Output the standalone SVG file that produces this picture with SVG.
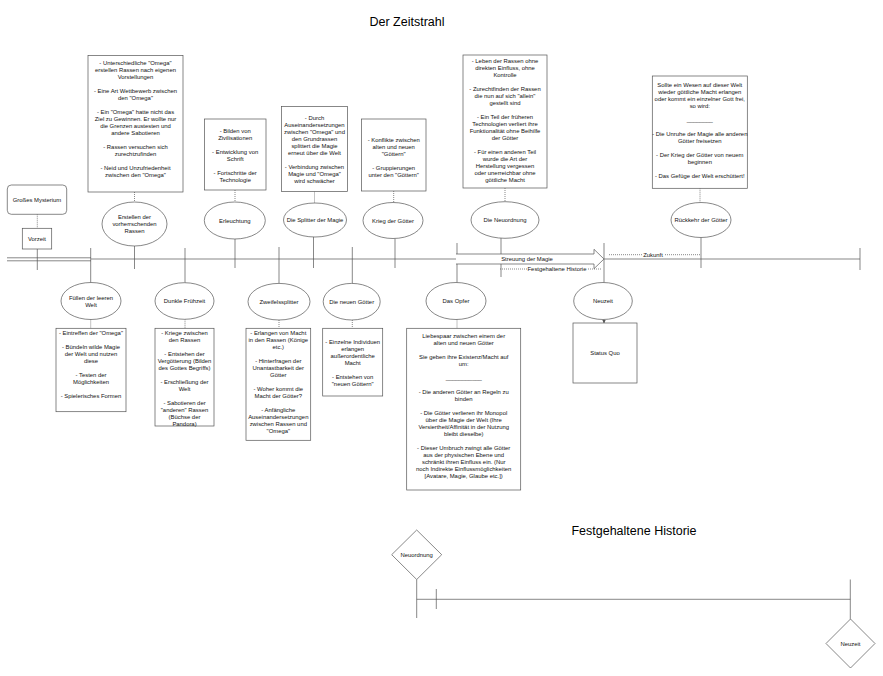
<svg xmlns="http://www.w3.org/2000/svg" width="883" height="676" viewBox="0 0 883 676">
<style>
.b{fill:#fff;stroke:#555;stroke-width:0.7}
.l{stroke:#555;stroke-width:0.7;fill:none}
.d{stroke:#555;stroke-width:0.7;stroke-dasharray:1 1;fill:none}
.t{font-family:"Liberation Sans",Arial,sans-serif;font-size:5.9px;fill:#111;text-anchor:middle}
.h{font-family:"Liberation Sans",Arial,sans-serif;font-size:12.5px;fill:#000;text-anchor:middle}
</style>
<defs>
<marker id="ar" viewBox="0 0 10 10" refX="9" refY="5" markerWidth="5" markerHeight="5" orient="auto"><path d="M0,0 L10,5 L0,10 z" fill="#555"/></marker>
</defs>
<rect width="883" height="676" fill="#fff"/>
<text class="h" x="407" y="26">Der Zeitstrahl</text>
<text class="h" x="634" y="535">Festgehaltene Historie</text>

<g id="connectors">
<line class="l" x1="7" y1="257.8" x2="91" y2="257.8"/>
<line class="l" x1="7" y1="260.8" x2="91" y2="260.8"/>
<line class="l" x1="91" y1="259" x2="456" y2="259"/>
<line class="l" x1="604" y1="259" x2="860" y2="259"/>
<line class="l" x1="860" y1="248" x2="860" y2="270"/>
<line class="d" x1="37.3" y1="214.3" x2="37.3" y2="228.3"/>
<line class="l" x1="37.3" y1="249" x2="37.3" y2="270"/>
<line class="l" x1="90.7" y1="248" x2="90.7" y2="282.5"/>
<line class="d" x1="90.7" y1="319.5" x2="90.7" y2="328.3"/>
<line class="d" x1="134.5" y1="192" x2="134.5" y2="202"/>
<line class="l" x1="134.5" y1="246" x2="134.5" y2="269"/>
<line class="l" x1="185" y1="248" x2="185" y2="282.7"/>
<line class="d" x1="185" y1="319.3" x2="185" y2="328.3"/>
<line class="d" x1="235" y1="190" x2="235" y2="202"/>
<line class="l" x1="235" y1="239" x2="235" y2="268"/>
<line class="l" x1="279" y1="247" x2="279" y2="283.4"/>
<line class="d" x1="279" y1="320" x2="279" y2="328.3"/>
<line class="d" x1="314.5" y1="191.5" x2="314.5" y2="203"/>
<line class="l" x1="313.5" y1="237" x2="313.5" y2="268"/>
<line class="l" x1="352.3" y1="247" x2="352.3" y2="283.4"/>
<line class="d" x1="352.3" y1="320" x2="352.3" y2="328.3"/>
<line class="d" x1="393.7" y1="191" x2="393.7" y2="202.5"/>
<line class="l" x1="395" y1="238.5" x2="395" y2="268"/>
<line class="l" x1="457" y1="243" x2="457" y2="282.5"/>
<line class="d" x1="457" y1="319.5" x2="457" y2="328.3"/>
<line class="d" x1="505" y1="188" x2="505" y2="201.7"/>
<line class="l" x1="501" y1="238" x2="501" y2="277"/>
<line class="l" x1="604" y1="243" x2="604" y2="282.5"/>
<line class="l" x1="604" y1="319.5" x2="604" y2="323" marker-end="url(#ar)"/>
<line class="d" x1="700" y1="188.3" x2="700" y2="202.5"/>
<line class="l" x1="701" y1="237.5" x2="701" y2="268"/>
<path class="b" d="M456,254 H594 V249.3 L604,259 L594,268.7 V264 H456"/>
<text class="t" x="527" y="261">Streuung der Magie</text>
<line class="d" x1="500" y1="269" x2="602" y2="269"/>
<rect x="527" y="266" width="60" height="6" fill="#fff"/>
<text class="t" x="557" y="271.1">Festgehaltene Historie</text>
<line class="d" x1="609" y1="254.7" x2="700.7" y2="254.7"/>
<rect x="642" y="251.7" width="22" height="6" fill="#fff"/>
<text class="t" x="653" y="256.8">Zukunft</text>
<line class="l" x1="416.7" y1="579.5" x2="416.7" y2="618"/>
<line class="l" x1="416.7" y1="599.3" x2="850.3" y2="599.3"/>
<line class="l" x1="436.3" y1="589" x2="436.3" y2="609"/>
<line class="l" x1="850.3" y1="579.5" x2="850.3" y2="619"/>
</g>

<g id="mysterium">
<rect class="b" x="7.3" y="185" width="59.4" height="29.3" rx="4"/>
<text class="t" x="37" y="201.7">Großes Mysterium</text>
</g>
<g id="vorzeit">
<rect class="b" x="22.3" y="228.3" width="29.4" height="20.7"/>
<text class="t" x="37" y="240.8">Vorzeit</text>
</g>

<g id="erstellen-box">
<rect class="b" x="88" y="55.5" width="95" height="136.5"/>
<text class="t" x="135.5" y="64.6"><tspan x="135.5">- Unterschiedliche "Omega"</tspan><tspan x="135.5" dy="7">erstellen Rassen nach eigenen</tspan><tspan x="135.5" dy="7">Vorstellungen</tspan><tspan x="135.5" dy="14">- Eine Art Wettbewerb zwischen</tspan><tspan x="135.5" dy="7">den "Omega"</tspan><tspan x="135.5" dy="14">- Ein "Omega" hatte nicht das</tspan><tspan x="135.5" dy="7">Ziel zu Gewinnen. Er wollte nur</tspan><tspan x="135.5" dy="7">die Grenzen austesten und</tspan><tspan x="135.5" dy="7">andere Sabotieren</tspan><tspan x="135.5" dy="14">- Rassen versuchen sich</tspan><tspan x="135.5" dy="7">zurechtzufinden</tspan><tspan x="135.5" dy="14">- Neid und Unzufriedenheit</tspan><tspan x="135.5" dy="7">zwischen den "Omega"</tspan></text>
</g>
<g id="erstellen">
<ellipse class="b" cx="134.5" cy="224" rx="32.5" ry="22"/>
<text class="t" x="134.5" y="219.1"><tspan x="134.5">Erstellen der</tspan><tspan x="134.5" dy="7">vorherrschenden</tspan><tspan x="134.5" dy="7">Rassen</tspan></text>
</g>

<g id="erleuchtung-box">
<rect class="b" x="204.5" y="119" width="61.5" height="71"/>
<text class="t" x="235.2" y="133.1"><tspan x="235.2">- Bilden von</tspan><tspan x="235.2" dy="7">Zivilisationen</tspan><tspan x="235.2" dy="14">- Entwicklung von</tspan><tspan x="235.2" dy="7">Schrift</tspan><tspan x="235.2" dy="14">- Fortschritte der</tspan><tspan x="235.2" dy="7">Technologie</tspan></text>
</g>
<g id="erleuchtung">
<ellipse class="b" cx="234.8" cy="220.5" rx="30.5" ry="18.5"/>
<text class="t" x="234.8" y="222.6">Erleuchtung</text>
</g>

<g id="splitter-box">
<rect class="b" x="281.5" y="106.5" width="66" height="85"/>
<text class="t" x="314.5" y="120.4"><tspan x="314.5">- Durch</tspan><tspan x="314.5" dy="7">Auseinandersetzungen</tspan><tspan x="314.5" dy="7">zwischen "Omega" und</tspan><tspan x="314.5" dy="7">den Grundrassen</tspan><tspan x="314.5" dy="7">splittert die Magie</tspan><tspan x="314.5" dy="7">erneut über die Welt</tspan><tspan x="314.5" dy="14">- Verbindung zwischen</tspan><tspan x="314.5" dy="7">Magie und "Omega"</tspan><tspan x="314.5" dy="7">wird schwächer</tspan></text>
</g>
<g id="splitter">
<ellipse class="b" cx="315" cy="220" rx="31.5" ry="17"/>
<text class="t" x="315" y="222.1">Die Splitter der Magie</text>
</g>

<g id="krieg-box">
<rect class="b" x="361.5" y="119" width="64.5" height="72"/>
<text class="t" x="393.7" y="142.1"><tspan x="393.7">- Konflikte zwischen</tspan><tspan x="393.7" dy="7">alten und neuen</tspan><tspan x="393.7" dy="7">"Göttern"</tspan><tspan x="393.7" dy="14">- Gruppierungen</tspan><tspan x="393.7" dy="7">unter den "Göttern"</tspan></text>
</g>
<g id="krieg">
<ellipse class="b" cx="393" cy="220.5" rx="30" ry="18"/>
<text class="t" x="393" y="222.6">Krieg der Götter</text>
</g>

<g id="neuordnung-box">
<rect class="b" x="463" y="55" width="84" height="133"/>
<text class="t" x="505" y="63.1"><tspan x="505">- Leben der Rassen ohne</tspan><tspan x="505" dy="7">direkten Einfluss, ohne</tspan><tspan x="505" dy="7">Kontrolle</tspan><tspan x="505" dy="14">- Zurechtfinden der Rassen</tspan><tspan x="505" dy="7">die nun auf sich "allein"</tspan><tspan x="505" dy="7">gestellt sind</tspan><tspan x="505" dy="14">- Ein Teil der früheren</tspan><tspan x="505" dy="7">Technologien verliert ihre</tspan><tspan x="505" dy="7">Funktionalität ohne Beihilfe</tspan><tspan x="505" dy="7">der Götter</tspan><tspan x="505" dy="14">- Für einen anderen Teil</tspan><tspan x="505" dy="7">wurde die Art der</tspan><tspan x="505" dy="7">Herstellung vergessen</tspan><tspan x="505" dy="7">oder unerreichbar ohne</tspan><tspan x="505" dy="7">göttliche Macht</tspan></text>
</g>
<g id="neuordnung">
<ellipse class="b" cx="505" cy="220" rx="34" ry="18.3"/>
<text class="t" x="505" y="222.1">Die Neuordnung</text>
</g>

<g id="rueckkehr-box">
<rect class="b" x="652.3" y="76" width="95" height="112.3"/>
<text class="t" x="699.8" y="87.1"><tspan x="699.8">Sollte ein Wesen auf dieser Welt</tspan><tspan x="699.8" dy="7">wieder göttliche Macht erlangen</tspan><tspan x="699.8" dy="7">oder kommt ein einzelner Gott frei,</tspan><tspan x="699.8" dy="7">so wird:</tspan><tspan x="699.8" dy="14">________</tspan><tspan x="699.8" dy="14">- Die Unruhe der Magie alle anderen</tspan><tspan x="699.8" dy="7">Götter freisetzen</tspan><tspan x="699.8" dy="14">- Der Krieg der Götter von neuem</tspan><tspan x="699.8" dy="7">beginnen</tspan><tspan x="699.8" dy="14">- Das Gefüge der Welt erschüttert!</tspan></text>
</g>
<g id="rueckkehr">
<ellipse class="b" cx="701" cy="220" rx="30" ry="17.5"/>
<text class="t" x="701" y="222.1">Rückkehr der Götter</text>
</g>

<g id="fuellen">
<ellipse class="b" cx="91" cy="301" rx="30" ry="18.5"/>
<text class="t" x="91" y="299.6"><tspan x="91">Füllen der leeren</tspan><tspan x="91" dy="7">Welt</tspan></text>
</g>
<g id="fuellen-box">
<rect class="b" x="56" y="328.3" width="70" height="83.4"/>
<text class="t" x="91" y="335.1"><tspan x="91">- Eintreffen der "Omega"</tspan><tspan x="91" dy="14">- Bündeln wilde Magie</tspan><tspan x="91" dy="7">der Welt und nutzen</tspan><tspan x="91" dy="7">diese</tspan><tspan x="91" dy="14">- Testen der</tspan><tspan x="91" dy="7">Möglichkeiten</tspan><tspan x="91" dy="14">- Spielerisches Formen</tspan></text>
</g>

<g id="dunkle">
<ellipse class="b" cx="184.5" cy="301" rx="29.5" ry="18.3"/>
<text class="t" x="184.5" y="303.1">Dunkle Frühzeit</text>
</g>
<g id="dunkle-box">
<rect class="b" x="155" y="328.3" width="59" height="97.7"/>
<text class="t" x="184.5" y="334.8"><tspan x="184.5">- Kriege zwischen</tspan><tspan x="184.5" dy="7">den Rassen</tspan><tspan x="184.5" dy="14">- Entstehen der</tspan><tspan x="184.5" dy="7">Vergötterung (Bilden</tspan><tspan x="184.5" dy="7">des Gottes Begriffs)</tspan><tspan x="184.5" dy="14">- Erschließung der</tspan><tspan x="184.5" dy="7">Welt</tspan><tspan x="184.5" dy="14">- Sabotieren der</tspan><tspan x="184.5" dy="7">"anderen" Rassen</tspan><tspan x="184.5" dy="7">(Büchse der</tspan><tspan x="184.5" dy="7">Pandora)</tspan></text>
</g>

<g id="zweifel">
<ellipse class="b" cx="279" cy="301.7" rx="31" ry="18.3"/>
<text class="t" x="279" y="303.8">Zweifelssplitter</text>
</g>
<g id="zweifel-box">
<rect class="b" x="246" y="328.3" width="64.7" height="112"/>
<text class="t" x="278.3" y="335"><tspan x="278.3">- Erlangen von Macht</tspan><tspan x="278.3" dy="7">in den Rassen (Könige</tspan><tspan x="278.3" dy="7">etc.)</tspan><tspan x="278.3" dy="14">- Hinterfragen der</tspan><tspan x="278.3" dy="7">Unantastbarkeit der</tspan><tspan x="278.3" dy="7">Götter</tspan><tspan x="278.3" dy="14">- Woher kommt die</tspan><tspan x="278.3" dy="7">Macht der Götter?</tspan><tspan x="278.3" dy="14">- Anfängliche</tspan><tspan x="278.3" dy="7">Auseinandersetzungen</tspan><tspan x="278.3" dy="7">zwischen Rassen und</tspan><tspan x="278.3" dy="7">"Omega"</tspan></text>
</g>

<g id="neue-goetter">
<ellipse class="b" cx="351.7" cy="301.7" rx="28.5" ry="18.3"/>
<text class="t" x="351.7" y="303.8">Die neuen Götter</text>
</g>
<g id="neue-goetter-box">
<rect class="b" x="322.7" y="328.3" width="60" height="67.7"/>
<text class="t" x="352.7" y="343.8"><tspan x="352.7">- Einzelne Individuen</tspan><tspan x="352.7" dy="7">erlangen</tspan><tspan x="352.7" dy="7">außerordentliche</tspan><tspan x="352.7" dy="7">Macht</tspan><tspan x="352.7" dy="14">- Entstehen von</tspan><tspan x="352.7" dy="7">"neuen Göttern"</tspan></text>
</g>

<g id="opfer">
<ellipse class="b" cx="456" cy="301" rx="30" ry="18.5"/>
<text class="t" x="456" y="303.1">Das Opfer</text>
</g>
<g id="opfer-box">
<rect class="b" x="406.7" y="328.3" width="114" height="161.7"/>
<text class="t" x="463.7" y="338.1"><tspan x="463.7">Liebespaar zwischen einem der</tspan><tspan x="463.7" dy="7">alten und neuen Götter</tspan><tspan x="463.7" dy="14">Sie geben ihre Existenz/Macht auf</tspan><tspan x="463.7" dy="7">um:</tspan><tspan x="463.7" dy="14">___________</tspan><tspan x="463.7" dy="14">- Die anderen Götter an Regeln zu</tspan><tspan x="463.7" dy="7">binden</tspan><tspan x="463.7" dy="14">- Die Götter verlieren ihr Monopol</tspan><tspan x="463.7" dy="7">über die Magie der Welt (Ihre</tspan><tspan x="463.7" dy="7">Versiertheit/Affinität in der Nutzung</tspan><tspan x="463.7" dy="7">bleibt dieselbe)</tspan><tspan x="463.7" dy="14">- Dieser Umbruch zwingt alle Götter</tspan><tspan x="463.7" dy="7">aus der physischen Ebene und</tspan><tspan x="463.7" dy="7">schränkt ihren Einfluss ein. (Nur</tspan><tspan x="463.7" dy="7">noch Indirekte Einflussmöglichkeiten</tspan><tspan x="463.7" dy="7">[Avatare, Magie, Glaube etc.])</tspan></text>
</g>

<g id="neuzeit">
<ellipse class="b" cx="603" cy="301" rx="29.3" ry="18.5"/>
<text class="t" x="603" y="303.1">Neuzeit</text>
</g>
<g id="status-quo">
<rect class="b" x="573" y="323" width="64" height="60"/>
<text class="t" x="605" y="355.1">Status Quo</text>
</g>

<g id="hist-neuordnung">
<polygon class="b" points="416.7,530 441.7,554.7 416.7,579.5 391.7,554.7"/>
<text class="t" x="416.7" y="556.8">Neuordnung</text>
</g>
<g id="hist-neuzeit">
<polygon class="b" points="850.5,619 875,643.5 850.5,668 826,643.5"/>
<text class="t" x="850.5" y="645.6">Neuzeit</text>
</g>
</svg>
